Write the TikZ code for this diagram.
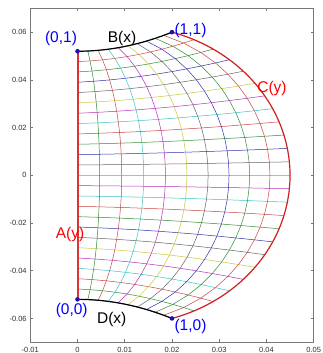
\documentclass[tikz,border=0pt]{standalone}
\usepackage{fontspec}
\setmainfont{Liberation Sans}
\definecolor{g0}{RGB}{50,50,170}
\definecolor{g1}{RGB}{50,140,50}
\definecolor{g2}{RGB}{200,70,70}
\definecolor{g3}{RGB}{60,195,195}
\definecolor{g4}{RGB}{180,50,180}
\definecolor{g5}{RGB}{200,200,60}
\definecolor{g6}{RGB}{100,100,100}
\definecolor{axgray}{RGB}{120,120,120}
\definecolor{ticktext}{RGB}{50,50,50}
\definecolor{lblue}{RGB}{0,0,255}
\definecolor{dotblue}{RGB}{20,20,180}
\definecolor{bred}{RGB}{210,30,30}
\definecolor{edgeA}{RGB}{220,50,50}
\tikzset{
  axisline/.style={draw=axgray, line width=0.7pt},
  tickline/.style={draw=axgray, line width=0.6pt},
  ticklbl/.style={text=ticktext, inner sep=0pt, font=\fontsize{7.5}{9}\selectfont},
  gridline/.style={line width=0.5pt},
  rightedge/.style={draw=bred, line width=1.2pt},
  blackedge/.style={draw=black, line width=1.2pt},
  cornerdot/.style={fill=dotblue},
  lbl/.style={inner sep=0pt, font=\fontsize{15.5}{18}\selectfont},
}
\begin{document}
\begin{tikzpicture}[x=1pt,y=1pt]
\useasboundingbox (0,0) rectangle (322,353);
\fill[white] (0,0) rectangle (322,353);
% axes frame
\draw[axisline] (30.3,10.7) rectangle (313.7,344.7);
\foreach \m/\t in {-10/-0.01,0/0,10/0.01,20/0.02,30/0.03,40/0.04,50/0.05}{
  \pgfmathsetmacro\X{77.5+4.723*\m}
  \draw[tickline] (\X,10.7) -- (\X,13.7);
  \draw[tickline] (\X,344.7) -- (\X,341.7);
  \node[ticklbl, anchor=base] at (\X,0.8) {\t};
}
\foreach \m/\t in {60/0.06,40/0.04,20/0.02,0/0,-20/-0.02,-40/-0.04,-60/-0.06}{
  \pgfmathsetmacro\Y{177.7+2.3857*\m}
  \draw[tickline] (30.3,\Y) -- (33.3,\Y);
  \draw[tickline] (313.7,\Y) -- (310.7,\Y);
  \node[ticklbl, anchor=base east] at (26.8,\Y-2.7) {\t};
}
% data scope (units of 0.001)
\begin{scope}[shift={(77.5pt,177.7pt)}, x=4.723pt, y=2.3857pt]
\def\CX{{45.000,44.858,44.428,43.705,42.681,41.332,39.645,37.583,35.110,32.179,28.727,24.679,20.000}}
\def\CY{{0,5.643,11.272,16.875,22.413,27.902,33.284,38.540,43.617,48.435,52.893,56.838,60.000}}
\def\BX{{0,2.1937,4.3708,6.5164,8.6181,10.667,12.657,14.586,16.452,18.255,20}}
\foreach \i in {0,...,24}{
  \foreach \j in {0,...,10}{
    \pgfmathtruncatemacro\kk{abs(\i-12)}
    \pgfmathsetmacro\xq{\j/10}
    \pgfmathsetmacro\eq{(\i-12)/12}
    \pgfmathsetmacro\cxv{\CX[\kk]}
    \pgfmathsetmacro\cyv{ifthenelse(\i<12,-1,1)*\CY[\kk]}
    \pgfmathsetmacro\bxv{\BX[\j]}
    \pgfmathsetmacro\ybv{52+0.02*\bxv*\bxv}
    \pgfmathsetmacro\pxv{\xq*\cxv+\bxv-20*\xq}
    \pgfmathsetmacro\pyv{\eq*(\ybv-60*\xq)+\xq*\cyv}
    \coordinate (p-\i-\j) at (\pxv,\pyv);
  }
}
% grid lines of constant eta
\foreach \i in {0,...,24}{
  \pgfmathtruncatemacro\ci{mod(\i,7)}
  \draw[gridline, color=g\ci] (p-\i-0) \foreach \j in {1,...,10}{ -- (p-\i-\j)};
}
% grid lines of constant xi
\foreach \j in {1,...,9}{
  \pgfmathtruncatemacro\cj{mod(\j,7)}
  \draw[gridline, color=g\cj] (p-0-\j) \foreach \i in {1,...,24}{ -- (p-\i-\j)};
}
% boundary curves
\draw[rightedge] plot[domain=-73.38:73.38, samples=80, smooth] ({10+35*cos(\x)},{62.61*sin(\x)});
\draw[blackedge] plot[domain=0:20, samples=40, smooth] (\x,{52+0.02*\x*\x});
\draw[blackedge] plot[domain=0:20, samples=40, smooth] (\x,{-52-0.02*\x*\x});
\end{scope}
% left edge A(y), drawn as a filled strip
\path (p-0-0) ++(-1,0) coordinate (abl);
\path (p-24-0) ++(1,0) coordinate (atr);
\fill[edgeA] (abl) rectangle (atr);
% corner dots
\foreach \c in {p-0-0,p-24-0,p-0-10,p-24-10}{
  \fill[cornerdot] (\c) circle (2.3);
}
% labels
\node[lbl, text=lblue] (l01) at (61,314.5) {(0,1)};
\node[lbl, text=black] (lB) at (122,314.5) {B(x)};
\node[lbl, text=lblue] (l11) at (190.5,322.2) {(1,1)};
\node[lbl, text=red] (lC) at (272,265) {C(y)};
\node[lbl, text=red] (lA) at (70,119) {A(y)};
\node[lbl, text=lblue] (l00) at (71.7,42.5) {(0,0)};
\node[lbl, text=black] (lD) at (111.7,33.5) {D(x)};
\node[lbl, text=lblue] (l10) at (190.5,26.3) {(1,0)};
\end{tikzpicture}
\end{document}
